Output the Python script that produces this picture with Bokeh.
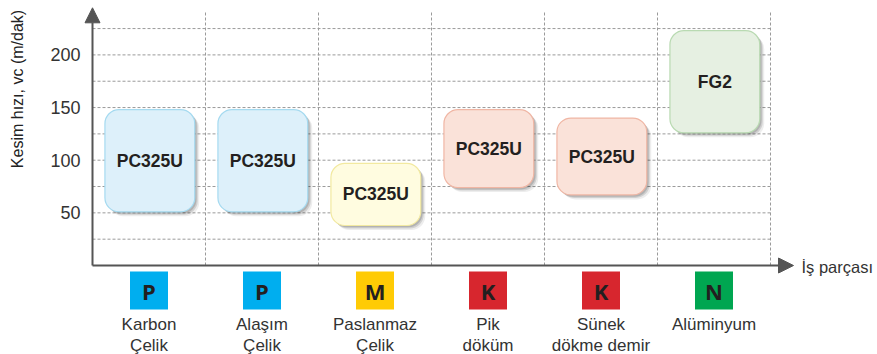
from math import pi
from bokeh.plotting import figure
from bokeh.models import Range1d, Arrow, NormalHead, ColumnDataSource
from bokeh.core.properties import value
from bokeh.embed import file_html
from bokeh.resources import INLINE

# ---------------- data ----------------
categories = ["Karbon\nÇelik", "Alaşım\nÇelik", "Paslanmaz\nÇelik", "Pik\ndöküm",
              "Sünek\ndökme demir", "Alüminyum"]
iso_groups = ["P", "P", "M", "K", "K", "N"]
grades = ["PC325U", "PC325U", "PC325U", "PC325U", "PC325U", "FG2"]
speed_low = [51, 51, 38, 74, 67, 126]
speed_high = [148, 148, 97, 148, 140, 223]
y_ticks = [50, 100, 150, 200]
y_tick_labels = ["50", "100", "150", "200"]
grid_levels = [25, 50, 75, 100, 125, 150, 175, 200, 225]
y_title = "Kesim hızı, vc (m/dak)"
x_title = "İş parçası"

# ---------------- styles ----------------
iso_color = {"P": "#00AEEF", "M": "#FFCB05", "K": "#D7262E", "N": "#00A651"}
box_fill = {"P": "#DDF0FA", "M": "#FFFCE0", "K": "#FAE2D9", "N": "#E6F0E2"}
box_line = {"P": "#A5DAF0", "M": "#F2E9A0", "K": "#F0B6A4", "N": "#B9DAB2"}
FONT = "Liberation Sans"

W, H = 877, 354
ORIGIN_X, ORIGIN_Y = 92, 265      # pixel position of the axes corner
PX_PER_CAT = 113.0
PX_PER_UNIT = 1.053

p = figure(width=W, height=H, output_backend="svg", toolbar_location=None,
           x_axis_location=None, y_axis_location=None, min_border=0,
           x_range=Range1d(-ORIGIN_X / PX_PER_CAT, (W - ORIGIN_X) / PX_PER_CAT),
           y_range=Range1d(-(H - ORIGIN_Y) / PX_PER_UNIT, ORIGIN_Y / PX_PER_UNIT))
p.outline_line_color = None
p.xgrid.visible = False
p.ygrid.visible = False

n = len(categories)
xs = [i + 0.5 for i in range(n)]
dx = 1.0 / PX_PER_CAT
dy = 1.0 / PX_PER_UNIT
grid_top = 242

# grid
p.segment(x0=[0] * len(grid_levels), x1=[n] * len(grid_levels), y0=grid_levels, y1=grid_levels,
          line_color="#9a9a9a", line_width=1, line_dash="3 2")
p.segment(x0=list(range(1, n + 1)), x1=list(range(1, n + 1)), y0=[0] * n, y1=[grid_top] * n,
          line_color="#9a9a9a", line_width=1, line_dash="3 2")

# y tick labels
p.text(x=[-12 * dx] * len(y_ticks), y=y_ticks, text=y_tick_labels, text_font=value(FONT),
       text_font_size="18px", text_align="right", text_baseline="middle",
       text_color="#333333")
# y title
p.text(x=[-75 * dx], y=[176.5 * dy], text=[y_title], angle=pi / 2, text_font=value(FONT),
       text_font_size="16px", text_align="center", text_baseline="middle",
       text_color="#222222")

# boxes
lefts = [i + 0.11 for i in range(n)]
rights = [i + 0.905 for i in range(n)]
for off, alpha in [(4.5, 0.07), (3.0, 0.12), (1.8, 0.14)]:
    p.quad(left=[l + off * dx for l in lefts], right=[r + off * dx for r in rights],
           bottom=[b - off * dy for b in speed_low], top=[t - off * dy for t in speed_high],
           fill_color="#000000", fill_alpha=alpha, line_color=None, border_radius=14)
src = ColumnDataSource(dict(left=lefts, right=rights, bottom=speed_low, top=speed_high,
                            fill=[box_fill[g] for g in iso_groups],
                            line=[box_line[g] for g in iso_groups]))
p.quad(left="left", right="right", bottom="bottom", top="top", source=src,
       fill_color="fill", line_color="line", line_width=1.2, border_radius=14)
p.text(x=[(l + r) / 2 for l, r in zip(lefts, rights)],
       y=[(a + b) / 2 for a, b in zip(speed_low, speed_high)], text=grades,
       text_font=value(FONT), text_font_style="bold", text_font_size="17.5px",
       text_align="center", text_baseline="middle", text_color="#231F20")

# axes with arrows
head_y = NormalHead(size=15, fill_color="#555555", line_color="#555555")
p.add_layout(Arrow(end=head_y, x_start=0, y_start=0, x_end=0, y_end=257.7 * dy,
                   line_color="#555555", line_width=2))
head_x = NormalHead(size=15, fill_color="#555555", line_color="#555555")
p.add_layout(Arrow(end=head_x, x_start=0, y_start=0, x_end=701 * dx, y_end=0,
                   line_color="#555555", line_width=2))

p.text(x=[709 * dx], y=[-1.5 * dy], text=[x_title], text_font=value(FONT),
       text_font_size="16.5px", text_align="left", text_baseline="middle",
       text_color="#333333")

# category badges
badge_y = -25 * dy
p.rect(x=xs, y=[badge_y] * n, width=38, height=38, width_units="screen", height_units="screen",
       fill_color=[iso_color[g] for g in iso_groups], line_color=None)
p.text(x=xs, y=[badge_y] * n, text=iso_groups, text_font=value("Open Sans"),
       text_font_style="bold", text_font_size="22px", text_align="center",
       text_baseline="middle", text_color="#231F20")

line1 = [c.split("\n")[0] for c in categories]
line2 = [c.split("\n")[1] if "\n" in c else "" for c in categories]
p.text(x=xs, y=[-58.5 * dy] * n, text=line1, text_font=value(FONT), text_font_size="17px",
       text_align="center", text_baseline="middle", text_color="#333333")
p.text(x=xs, y=[-79.5 * dy] * n, text=line2, text_font=value(FONT), text_font_size="17px",
       text_align="center", text_baseline="middle", text_color="#333333")

open("out.html", "w").write(file_html(p, INLINE))
